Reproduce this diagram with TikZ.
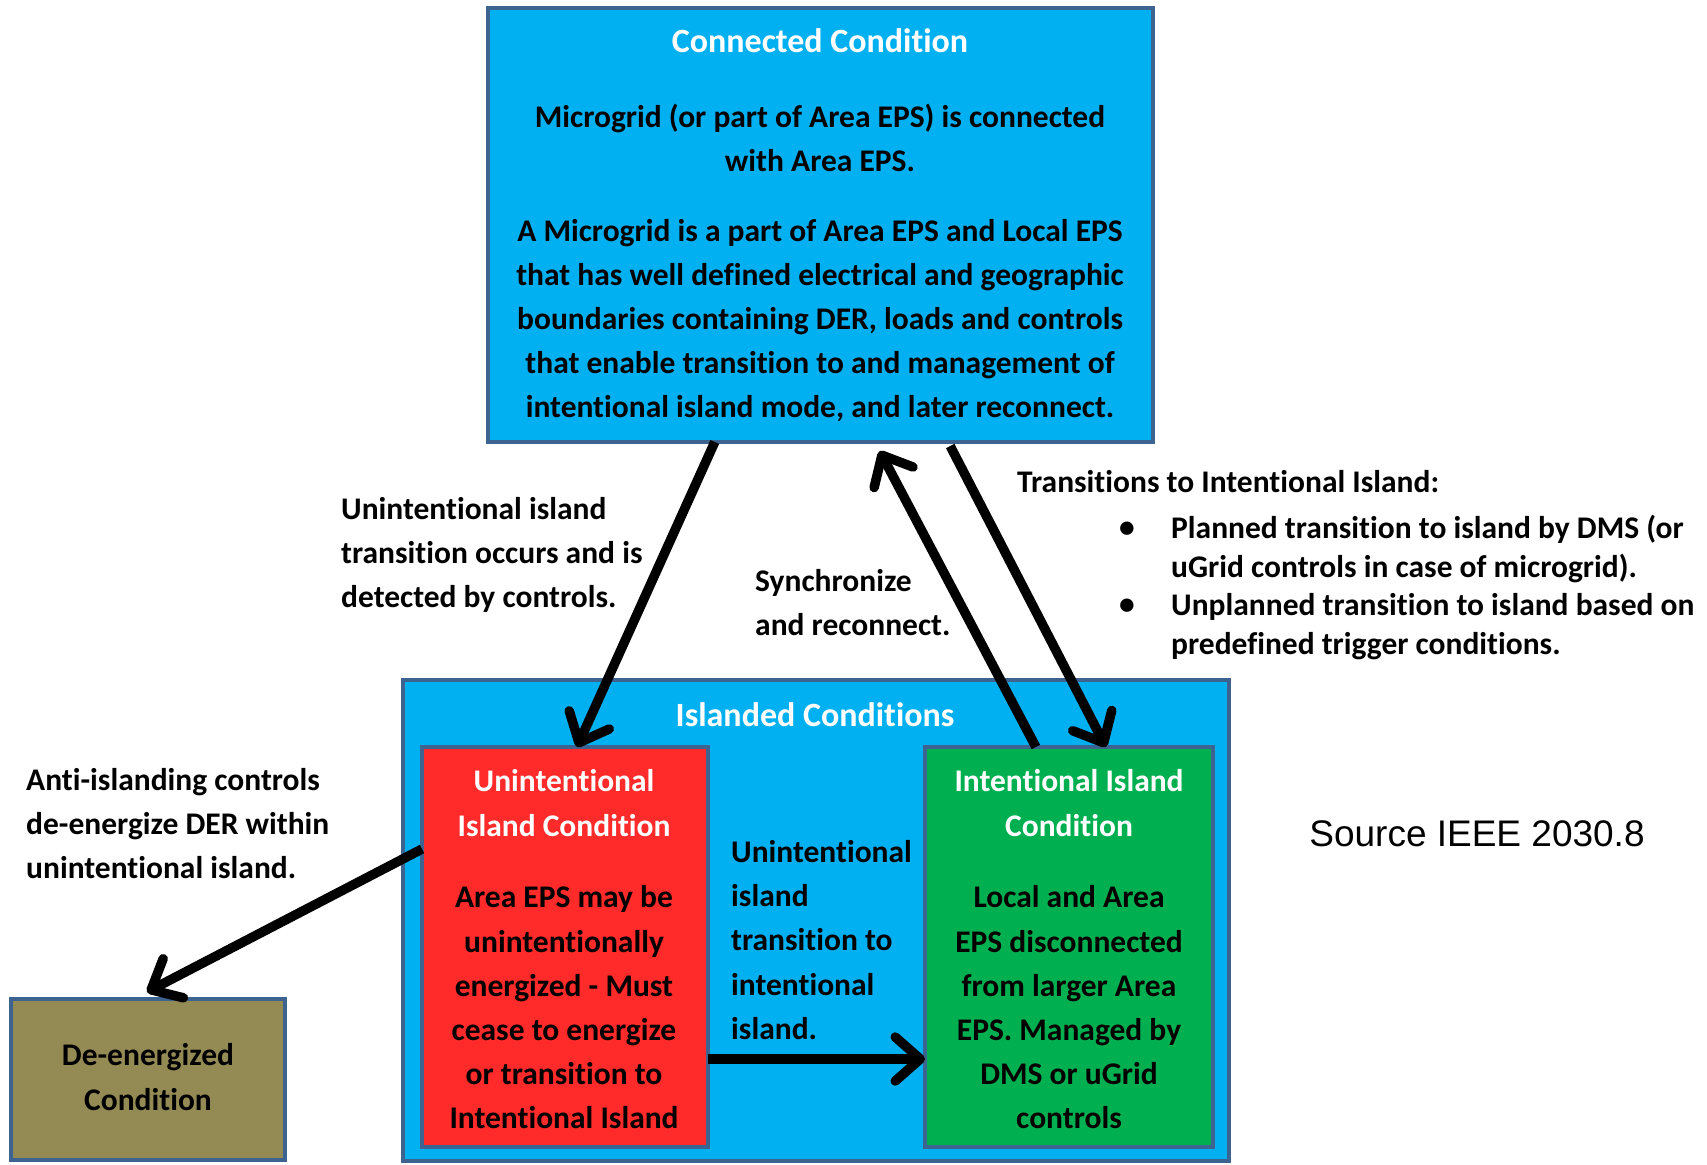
\documentclass[tikz,border=0pt]{standalone}
\usepackage{fontspec}
\setmainfont{Carlito}[Ligatures=NoCommon]
\newfontfamily\srcfont{Liberation Sans}
\usetikzlibrary{arrows.meta,calc}

\definecolor{skyc}{HTML}{00B0F0}
\definecolor{bordc}{HTML}{3D6490}
\definecolor{redc}{HTML}{FF2A2A}
\definecolor{greenc}{HTML}{00B050}
\definecolor{olivec}{HTML}{948A54}

\begin{document}
\begin{tikzpicture}[x=1pt,y=-1pt,
  box/.style={draw=bordc, line width=4.5pt, rectangle, inner sep=0pt, outer sep=0pt},
  txt/.style={font=\bfseries\fontsize{31.5}{44.2}\selectfont, align=center, inner sep=0pt},
  wtxt/.style={txt, text=white},
  bigtitle/.style={wtxt, font=\bfseries\fontsize{34}{44.2}\selectfont},
  ltxt/.style={txt, align=left, anchor=west},
  itemtxt/.style={ltxt, font=\bfseries\fontsize{31.5}{39}\selectfont},
  conn/.style={line width=9.5pt, -{Straight Barb[length=25pt,width=44pt,round]}}]

\useasboundingbox (0,0) rectangle (1707,1164);

% condition boxes
\node[box, fill=skyc, minimum width=665pt, minimum height=434pt] (conn) at (820.5,225) {};
\node[box, fill=skyc, minimum width=826pt, minimum height=481pt] (isl) at (816,920.5) {};
\node[box, fill=redc, minimum width=286pt, minimum height=400pt] (unint) at (565,947) {};
\node[box, fill=greenc, minimum width=288pt, minimum height=400pt] (inten) at (1069,947) {};
\node[box, fill=olivec, minimum width=274pt, minimum height=161pt] (deen) at (148,1079.5) {};

% texts inside the boxes
\node[bigtitle] (conntitle) at (820,41) {Connected Condition};
\node[txt] (conndef) at (820,138) {Microgrid (or part of Area EPS) is connected\\with Area EPS.};
\node[txt] (connbody) at (820,320.5) {A Microgrid is a part of Area EPS and Local EPS\\that has well defined electrical and geographic\\boundaries containing DER, loads and controls\\that enable transition to and management of\\intentional island mode, and later reconnect.};

\node[bigtitle] (isltitle) at (815,715) {Islanded Conditions};

\node[wtxt] (uititle) at (564,803) {Unintentional\\Island Condition};
\node[txt] (uibody) at (564,1007.5) {Area EPS may be\\unintentionally\\energized - Must\\cease to energize\\or transition to\\Intentional Island};

\node[wtxt] (iititle) at (1069,803) {Intentional Island\\Condition};
\node[txt] (iibody) at (1069,1007.5) {Local and Area\\EPS disconnected\\from larger Area\\EPS. Managed by\\DMS or uGrid\\controls};

\node[ltxt] (midlabel) at (731,940) {Unintentional\\island\\transition to\\intentional\\island.};

\node[txt] (deentext) at (148,1077) {De-energized\\Condition};

% transition labels
\node[ltxt] (antilabel) at (26,823.5) {Anti-islanding controls\\de-energize DER within\\unintentional island.};
\node[ltxt] (uilabel) at (341,555) {Unintentional island\\transition occurs and is\\detected by controls.};
\node[ltxt] (synclabel) at (755,602.5) {Synchronize\\and reconnect.};
\node[ltxt] (translabel) at (1017,482) {Transitions to Intentional Island:};
\node[txt] (bulA) at (1127,530) {\textbullet};
\node[txt] (bulB) at (1127,607) {\textbullet};
\node[itemtxt] (itemA) at (1171,549) {Planned transition to island by DMS (or\\uGrid controls in case of microgrid).};
\node[itemtxt] (itemB) at (1171,627) {Unplanned transition to island based on\\predefined trigger conditions.};

\node[font=\srcfont\fontsize{37}{44}\selectfont, inner sep=0pt] (source) at (1477,834) {Source IEEE 2030.8};

% transitions
\draw[conn] ($(conn.south west)!0.341!(conn.south east)$) -- ($(unint.north west)!0.542!(unint.north east)$);
\draw[conn] ($(inten.north west)!0.385!(inten.north east)$) -- ($(conn.south west)!0.589!(conn.south east)+(0,9)$);
\draw[conn] ($(conn.south west)!0.695!(conn.south east)+(0,4)$) -- ($(inten.north west)!0.628!(inten.north east)$);
\draw[conn] ($(unint.north west)!0.255!(unint.south west)$) -- ($(deen.north west)!0.496!(deen.north east)+(0,-7)$);
\draw[conn] ($(unint.north east)!0.78!(unint.south east)$) -- ($(inten.north west)!0.78!(inten.south west)$);

\end{tikzpicture}
\end{document}
